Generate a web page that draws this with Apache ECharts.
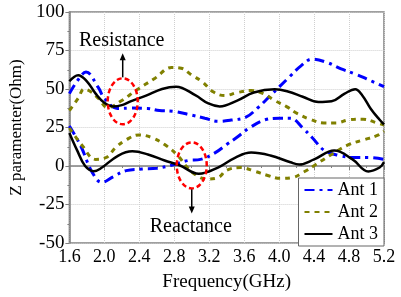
<!DOCTYPE html>
<html>
<head>
<meta charset="utf-8">
<script src="https://cdn.jsdelivr.net/npm/echarts@6/dist/echarts.min.js"></script>
<style>
  html, body { margin: 0; padding: 0; background: #fff; }
  #main { width: 401px; height: 297px; }
</style>
</head>
<body>
<div id="main"></div>
<script>
// [frequency GHz, Z (Ohm)]
var ant1Res = [[1.6,47],[1.7,56],[1.79,61],[1.93,51],[2.0,44],[2.15,37.4],[2.3,37.6],[2.49,37.4],[2.63,36],[2.79,35.5],[3.0,33],[3.15,31],[3.3,29],[3.45,29.8],[3.62,31.7],[3.75,37.5],[3.9,45.7],[4.12,58],[4.25,65],[4.38,69.4],[4.54,67.4],[4.71,63],[4.86,60],[5.0,56.6],[5.2,51.5]];
var ant1Re = [[1.6,26],[1.73,13],[1.86,-4],[1.97,-10.6],[2.1,-7],[2.25,-3],[2.43,-2],[2.6,-1.5],[2.77,0.5],[2.96,3.6],[3.1,4.3],[3.27,8.7],[3.4,14],[3.51,18.3],[3.66,24.7],[3.84,30],[4.0,31],[4.13,31],[4.27,24.7],[4.38,18.3],[4.52,10],[4.69,6.8],[4.85,5.5],[5.01,5.5],[5.2,4.3]];
var ant2Res = [[1.6,36],[1.7,44],[1.77,50],[1.85,48],[1.93,44],[2.04,38],[2.2,42.5],[2.36,49],[2.58,57],[2.77,64],[2.88,63.5],[3.0,59],[3.12,54.7],[3.25,48],[3.38,45.7],[3.52,47.7],[3.68,49],[3.82,47],[3.95,42.5],[4.08,38.7],[4.21,34],[4.35,30.4],[4.51,28],[4.65,28],[4.8,30],[4.96,30.4],[5.12,28],[5.2,26.6]];
var ant2Re = [[1.6,24.7],[1.75,13],[1.9,4.3],[2.02,5.5],[2.13,12],[2.25,17],[2.4,20.2],[2.55,18.3],[2.69,13.9],[2.84,6.8],[2.95,-1],[3.05,-6],[3.17,-8.5],[3.3,-7.6],[3.4,-2.7],[3.56,-1],[3.72,-3.4],[3.86,-6],[4.01,-8],[4.15,-7.5],[4.28,-4],[4.42,1],[4.6,7.5],[4.8,14],[4.97,17],[5.13,20],[5.2,22.6]];
var ant3Res = [[1.6,55],[1.7,59],[1.8,55],[1.9,47],[2.0,41],[2.1,38.7],[2.2,39.5],[2.3,42],[2.47,45.5],[2.66,50],[2.82,51.5],[3.04,46],[3.19,40.6],[3.32,38.7],[3.52,42.5],[3.71,47.7],[3.95,49.8],[4.1,48.4],[4.27,45],[4.45,41.5],[4.6,42],[4.75,47],[4.87,49.8],[4.95,46],[5.05,37],[5.15,30],[5.2,27]];
var ant3Re = [[1.6,21.5],[1.69,10],[1.78,0],[1.88,-3.4],[1.96,-1.5],[2.16,6.8],[2.32,9.5],[2.5,7.5],[2.69,3.6],[2.86,0.5],[3.08,-5],[3.3,-1],[3.5,5.5],[3.68,8.7],[3.9,6.8],[4.13,2.4],[4.23,1],[4.4,4.3],[4.63,10],[4.84,4.3],[5.02,-3.5],[5.15,-1],[5.2,2.5]];
var names = ['Ant 1', 'Ant 2', 'Ant 3'];

var font = '"Liberation Serif", "Times New Roman", serif';
var styles = {
    'Ant 1': { color: '#0000ff', width: 3, type: [10, 5, 3, 5] },
    'Ant 2': { color: '#808000', width: 3, type: [5, 5] },
    'Ant 3': { color: '#000000', width: 2.5, type: 'solid' }
};

function mk(name, data) {
    var s = styles[name];
    return {
        name: name,
        type: 'line',
        smooth: 0.4,
        showSymbol: false,
        symbol: 'none',
        data: data,
        itemStyle: { color: s.color },
        lineStyle: { color: s.color, width: s.width, type: s.type }
    };
}

var myChart = echarts.init(document.getElementById('main'));
var option = {
    animation: false,
    grid: { left: 60, right: 17, top: 12, bottom: 50, show: true, borderColor: '#808080', borderWidth: 1.5 },
    legend: {
        data: names,
        orient: 'vertical',
        right: 17,
        top: 178,
        itemWidth: 28,
        itemHeight: 10,
        itemGap: 4,
        padding: [3, 6, 3, 5],
        backgroundColor: '#fff',
        borderColor: '#666',
        borderWidth: 1,
        borderRadius: 0,
        itemStyle: { opacity: 0 },
        textStyle: { fontFamily: font, fontSize: 18, color: '#000' }
    },
    xAxis: {
        type: 'value',
        min: 1.6, max: 5.2, interval: 0.4,
        name: 'Frequency(GHz)',
        nameLocation: 'middle',
        nameGap: 30,
        nameTextStyle: { fontFamily: font, fontSize: 19, color: '#000' },
        axisLine: { lineStyle: { color: '#808080', width: 1.5 } },
        axisTick: { inside: false, length: 4, lineStyle: { color: '#808080' } },
        minorTick: { show: true, splitNumber: 2, length: 2 },
        axisLabel: { fontFamily: font, fontSize: 18, color: '#000', margin: 5,
            formatter: function (v) { return v.toFixed(1); } },
        splitLine: { show: true, lineStyle: { color: '#cfcfcf', type: 'dotted' } }
    },
    yAxis: {
        type: 'value',
        min: -50, max: 100, interval: 25,
        name: 'Z paramenter(Ohm)',
        nameLocation: 'middle',
        nameGap: 40,
        nameTextStyle: { fontFamily: font, fontSize: 17, color: '#000' },
        axisLine: { show: true, lineStyle: { color: '#808080', width: 1.5 } },
        axisTick: { show: true, inside: false, length: 4, lineStyle: { color: '#808080' } },
        minorTick: { show: true, splitNumber: 2, length: 2 },
        axisLabel: { fontFamily: font, fontSize: 19, color: '#000', margin: 5 },
        splitLine: { show: true, lineStyle: { color: '#cfcfcf', type: 'dotted' } }
    },
    series: [
        mk('Ant 1', ant1Res), mk('Ant 1', ant1Re),
        mk('Ant 2', ant2Res), mk('Ant 2', ant2Re),
        mk('Ant 3', ant3Res), mk('Ant 3', ant3Re)
    ]
};
myChart.setOption(option);

// annotation ellipses + arrows, placed in data coordinates
function ann(center, up, label) {
    var c = myChart.convertToPixel({ gridIndex: 0 }, center);
    var rx = 15, ry = 23;
    var y0 = up ? c[1] - ry - 1 : c[1] + ry + 1;
    var y1 = up ? y0 - 24 : y0 + 24;
    var dir = up ? -1 : 1;
    return [
        { type: 'ellipse', z: 100, shape: { cx: c[0], cy: c[1], rx: rx, ry: ry },
          style: { fill: null, stroke: '#ff0000', lineWidth: 2.5, lineDash: [5, 3] } },
        { type: 'line', z: 100, shape: { x1: c[0], y1: y0, x2: c[0], y2: y1 - dir * 6 },
          style: { stroke: '#000', lineWidth: 1.5 } },
        { type: 'polygon', z: 100, shape: { points: [[c[0] - 3, y1 - dir * 7], [c[0] + 3, y1 - dir * 7], [c[0], y1]] },
          style: { fill: '#000' } },
        { type: 'text', z: 100, x: c[0] - 1, y: up ? y1 - 13 : y1 + 13,
          style: { text: label, fill: '#000', font: '20px ' + font, align: 'center', verticalAlign: 'middle' } }
    ];
}
myChart.setOption({
    graphic: ann([2.21, 42], true, 'Resistance').concat(ann([3.0, 0.4], false, 'Reactance'))
});
</script>
</body>
</html>
